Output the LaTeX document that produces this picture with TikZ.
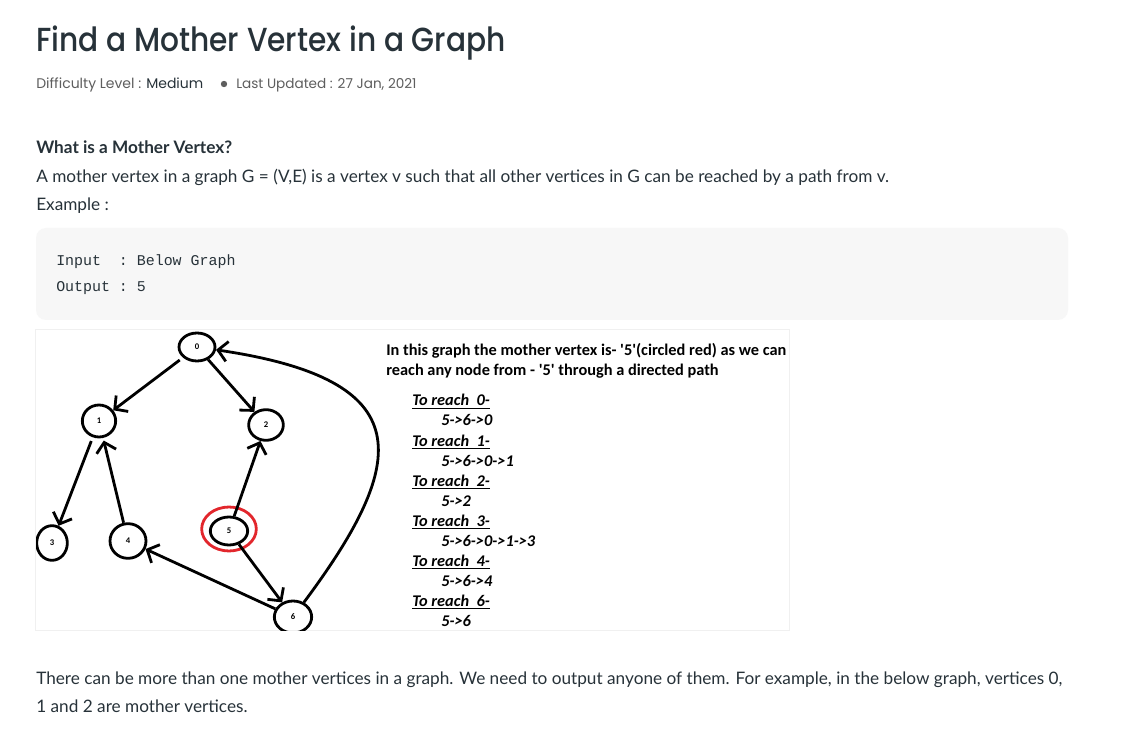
\documentclass[tikz,border=0pt]{standalone}
\usepackage{fontspec}
\setmainfont{Lato}
\setmonofont{Liberation Mono}
\newfontfamily\headfont{Poppins Medium}
\newfontfamily\metafont{Poppins}
\newfontfamily\imgfont{Carlito}
\usetikzlibrary{shapes.geometric,arrows.meta,positioning}

\definecolor{ink}{HTML}{273239}
\definecolor{metagray}{HTML}{5E5E5E}
\definecolor{codebg}{HTML}{F7F7F7}
\definecolor{ringred}{HTML}{E2262C}

\begin{document}
\begin{tikzpicture}[x=0.75pt, y=-0.75pt,
  every node/.style={inner sep=0pt, anchor=base west, text=ink},
  vtx/.style={ellipse, draw=black, line width=2.1pt, anchor=center,
    font=\imgfont\bfseries\fontsize{6.5}{6.5}\selectfont, text=black},
  edge/.style={line width=2.1pt, -{Straight Barb[length=7pt,width=15pt]}},
  ring/.style={draw=ringred, line width=2.1pt},
  imgtxt/.style={font=\imgfont\bfseries\fontsize{12.25}{14}\selectfont, text=black},
  reach/.style={imgtxt, font=\imgfont\bfseries\itshape\fontsize{12.25}{14}\selectfont},
  body/.style={font=\fontsize{12.9}{15}\selectfont}]
  \useasboundingbox[fill=white] (0,0) rectangle (1139,741);

  % heading
  \node (title) at (36,52) {\headfont\fontsize{25}{28}\selectfont\scalebox{0.89}[1]{Find a Mother Vertex in a Graph}};
  \node[font=\metafont\fontsize{10.5}{13}\selectfont, text=metagray] (level) at (36,89)
    {Difficulty Level : \textcolor{ink}{Medium}};
  \fill[metagray] (224,84) circle (2.4pt);
  \node[font=\metafont\fontsize{10.2}{13}\selectfont, text=metagray] (updated) at (236,89)
    {Last Updated : 27 Jan, 2021};

  % text above the example
  \node[body, font=\bfseries\fontsize{12.9}{15}\selectfont] (question) at (36,154) {What is a Mother Vertex?};
  \node[body] (definition) at (36,183)
    {A mother vertex in a graph G = (V,E) is a vertex v such that all other vertices in G can be reached by a path from v.};
  \node[body] (example) at (36,211) {Example :};

  % code block
  \fill[codebg, rounded corners=7.5pt] (36,228) rectangle (1068,320);
  \node[font=\ttfamily\fontsize{11.2}{12}\selectfont] (input) at (56,266) {Input\ \ : Below Graph};
  \node[font=\ttfamily\fontsize{11.2}{12}\selectfont] (output) at (56,292) {Output : 5};

  % picture of the graph
  \fill[black!6] (35,329) rectangle (790,631);
  \fill[white] (36,330) rectangle (789,630);
  \begin{scope}
    \clip (36,330) rectangle (789,630);
    \node[vtx, minimum width=27pt, minimum height=21pt] (n0) at (197,347) {0};
    \node[vtx, minimum width=25pt, minimum height=24pt] (n1) at (99,421) {1};
    \node[vtx, minimum width=26pt, minimum height=23pt] (n2) at (266,425) {2};
    \node[vtx, minimum width=23pt, minimum height=26pt] (n3) at (52,543) {3};
    \node[vtx, minimum width=27pt, minimum height=26pt] (n4) at (128,541) {4};
    \node[vtx, minimum width=28pt, minimum height=21pt] (n5) at (229,531) {5};
    \node[vtx, minimum width=28pt, minimum height=24pt] (n6) at (293,617) {6};
    \draw[ring] (229,529) ellipse [x radius=20.5pt, y radius=16.5pt];

    \draw[edge, shorten <=3pt] (n0) -- (n1);
    \draw[edge] (n0) -- (n2);
    \draw[edge, shorten <=3pt] (n1) -- (n3);
    \draw[edge, shorten >=2pt] (n4) -- (n1);
    \draw[edge] (n5) -- (n2);
    \draw[edge] (n5) -- (n6);
    \draw[edge] (n6) -- (n4);
    \draw[edge] (n6) .. controls (410,460) and (420,380) .. (n0);
  \end{scope}

  \node[imgtxt] (note1) at (386,356) {In this graph the mother vertex is- '5'(circled red) as we can};
  \node[imgtxt] (note2) at (386,376) {reach any node from - '5' through a directed path};
  \foreach \k/\p [count=\i from 0] in {0/5->6->0, 1/5->6->0->1, 2/5->2, 3/5->6->0->1->3, 4/5->6->4, 6/5->6} {
    \node[reach] (goal\k) at (412,406+40*\i) {\underline{To reach\ \ \k-}};
    \node[reach] (path\k) at (441,426+40*\i) {\p};
  }

  % text below the picture
  \node[body] (more1) at (36,684)
    {There can be more than one mother vertices in a graph. We need to output anyone of them. For example, in the below graph, vertices 0,};
  \node[body] (more2) at (36,712) {1 and 2 are mother vertices.};
\end{tikzpicture}
\end{document}
